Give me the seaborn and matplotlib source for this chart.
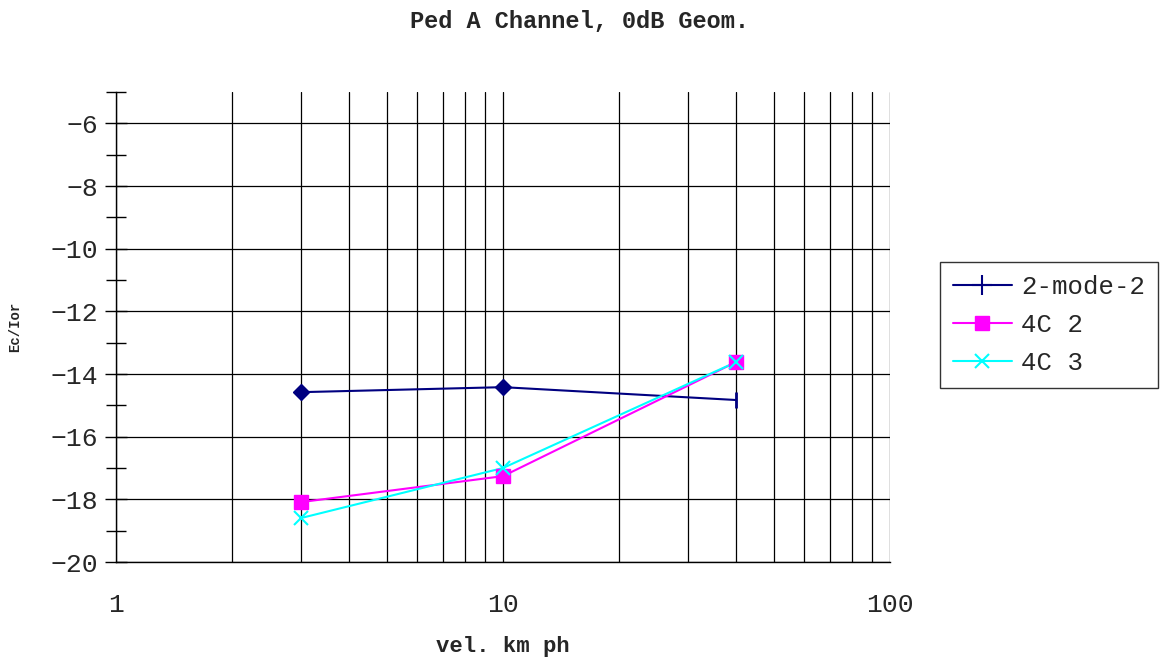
import matplotlib
matplotlib.use("Agg")
import matplotlib.pyplot as plt
import seaborn as sns
import pandas as pd
import numpy as np
from matplotlib.lines import Line2D
from matplotlib.ticker import LogLocator, FixedLocator, NullFormatter

velocity = [3, 10, 40]
mode2_2 = [-14.58, -14.42, -14.83]
c4_2 = [-18.09, -17.26, -13.62]
c4_3 = [-18.6, -17.0, -13.62]
series_names = ["2-mode-2", "4C 2", "4C 3"]
colors = ["#000080", "#FF00FF", "#00FFFF"]

df = pd.DataFrame({
    "vel": velocity * 3,
    "val": mode2_2 + c4_2 + c4_3,
    "series": [series_names[0]] * 3 + [series_names[1]] * 3 + [series_names[2]] * 3,
})

sns.set_style("white")
plt.rcParams["font.family"] = ["Liberation Mono", "DejaVu Sans"]

fig = plt.figure(figsize=(11.74, 6.66), dpi=100)
ax = fig.add_axes([116 / 1174, 1 - 562 / 666, (890 - 116) / 1174, (562 - 92) / 666])

ax.set_xscale("log")
ax.set_xlim(1, 100)
ax.set_ylim(-20, -5)

# grid
ax.xaxis.set_major_locator(FixedLocator([1, 10, 100]))
ax.xaxis.set_minor_locator(LogLocator(base=10, subs=np.arange(2, 10)))
ax.xaxis.set_minor_formatter(NullFormatter())
ax.set_xticklabels(["1", "10", "100"])
ax.yaxis.set_major_locator(FixedLocator(np.arange(-20, -5, 2)))
ax.yaxis.set_minor_locator(FixedLocator(np.arange(-19, -4, 2)))
ax.grid(True, which="both", axis="x", color="black", linewidth=0.9)
ax.grid(True, which="major", axis="y", color="black", linewidth=0.9)

sns.lineplot(data=df, x="vel", y="val", hue="series", palette=colors,
             ax=ax, legend=False, linewidth=1.5, zorder=3)

# markers
ax.plot(velocity[:2], mode2_2[:2], linestyle="none", marker="D", markersize=8,
        color=colors[0], zorder=4)
ax.plot(velocity[2:], mode2_2[2:], linestyle="none", marker="|", markersize=11,
        markeredgewidth=2, color=colors[0], zorder=4)
ax.plot(velocity, c4_2, linestyle="none", marker="s", markersize=10,
        color=colors[1], zorder=4)
ax.plot(velocity, c4_3, linestyle="none", marker="x", markersize=10,
        markeredgewidth=1.5, color=colors[2], zorder=5)

for s in ["top", "right"]:
    ax.spines[s].set_visible(False)
ax.spines["left"].set_color("black")
ax.spines["bottom"].set_color("black")
ax.spines["left"].set_linewidth(1)
ax.spines["bottom"].set_linewidth(1)

ax.tick_params(axis="y", which="major", direction="inout", length=16, width=1,
               color="black", labelsize=19, pad=5, left=True)
ax.tick_params(axis="y", which="minor", direction="inout", length=14, width=1,
               color="black", left=True)
ax.tick_params(axis="x", which="both", length=0, labelsize=19, pad=22)
ax.set_yticklabels([f"\u2212{abs(v)}" for v in np.arange(-20, -5, 2)])

ax.set_xlabel("vel. km ph", fontsize=16, fontweight="bold", labelpad=14)
ax.set_ylabel("Ec/Ior", fontsize=10, fontweight="bold", labelpad=20)
fig.text(0.494, 0.968, "Ped A Channel, 0dB Geom.", ha="center", va="center",
         fontsize=17, fontweight="bold")

handles = [
    Line2D([], [], color=colors[0], marker="+", markersize=14, markeredgewidth=1.5, linewidth=1.5),
    Line2D([], [], color=colors[1], marker="s", markersize=10, linewidth=1.5),
    Line2D([], [], color=colors[2], marker="x", markersize=10, markeredgewidth=1.5, linewidth=1.5),
]
leg = fig.legend(handles, series_names, loc="center left",
                 bbox_to_anchor=(940 / 1174, 1 - 325 / 666), fontsize=18.5,
                 frameon=True, fancybox=False, edgecolor="black",
                 handlelength=2.3, borderpad=0.5, labelspacing=0.55,
                 handletextpad=0.35, borderaxespad=0)
leg.get_frame().set_linewidth(1)

fig.savefig("out.png", dpi=100)
